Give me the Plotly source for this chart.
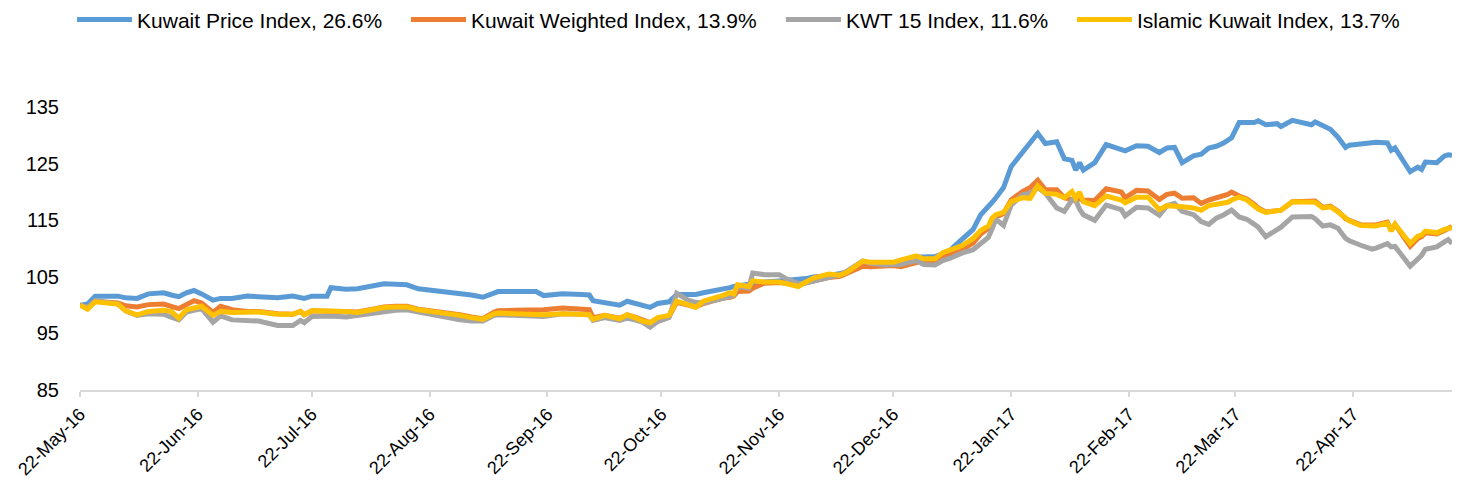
import plotly.graph_objects as go

dates = [
    "2016-05-22", "2016-05-24", "2016-05-26", "2016-06-01", "2016-06-03", "2016-06-06", "2016-06-09", "2016-06-13", "2016-06-15", "2016-06-17",
    "2016-06-19", "2016-06-21", "2016-06-23", "2016-06-26", "2016-06-28", "2016-07-01", "2016-07-05", "2016-07-08", "2016-07-13", "2016-07-17",
    "2016-07-19", "2016-07-20", "2016-07-22", "2016-07-26", "2016-07-27", "2016-07-31", "2016-08-03", "2016-08-07", "2016-08-10", "2016-08-13",
    "2016-08-16", "2016-08-19", "2016-08-23", "2016-08-27", "2016-08-30", "2016-09-02", "2016-09-05", "2016-09-08", "2016-09-09", "2016-09-13",
    "2016-09-18", "2016-09-19", "2016-09-21", "2016-09-26", "2016-10-01", "2016-10-03", "2016-10-04", "2016-10-07", "2016-10-11", "2016-10-13",
    "2016-10-15", "2016-10-17", "2016-10-19", "2016-10-21", "2016-10-24", "2016-10-26", "2016-10-29", "2016-10-31", "2016-11-02", "2016-11-05",
    "2016-11-07", "2016-11-09", "2016-11-10", "2016-11-11", "2016-11-14", "2016-11-15", "2016-11-18", "2016-11-22", "2016-11-24", "2016-11-27",
    "2016-11-29", "2016-12-01", "2016-12-05", "2016-12-08", "2016-12-10", "2016-12-12", "2016-12-14", "2016-12-16", "2016-12-20", "2016-12-22",
    "2016-12-24", "2016-12-28", "2016-12-30", "2017-01-02", "2017-01-04", "2017-01-06", "2017-01-07", "2017-01-09", "2017-01-12", "2017-01-14",
    "2017-01-16", "2017-01-17", "2017-01-18", "2017-01-20", "2017-01-22", "2017-01-25", "2017-01-27", "2017-01-29", "2017-01-31", "2017-02-03",
    "2017-02-05", "2017-02-07", "2017-02-08", "2017-02-09", "2017-02-10", "2017-02-13", "2017-02-16", "2017-02-20", "2017-02-21", "2017-02-24",
    "2017-02-27", "2017-03-02", "2017-03-04", "2017-03-06", "2017-03-08", "2017-03-11", "2017-03-13", "2017-03-15", "2017-03-17", "2017-03-19",
    "2017-03-20", "2017-03-21", "2017-03-23", "2017-03-25", "2017-03-27", "2017-03-28", "2017-03-30", "2017-04-02", "2017-04-03", "2017-04-06",
    "2017-04-11", "2017-04-12", "2017-04-14", "2017-04-16", "2017-04-18", "2017-04-20", "2017-04-21", "2017-04-24", "2017-04-27", "2017-04-28",
    "2017-05-01", "2017-05-02", "2017-05-03", "2017-05-07", "2017-05-09", "2017-05-10", "2017-05-11", "2017-05-14", "2017-05-16", "2017-05-17", "2017-05-18",
]

kuwait_price = [
    100.0, 100.2, 101.6, 101.6, 101.3, 101.2, 102.0, 102.2, 101.8, 101.5,
    102.2, 102.6, 102.0, 100.9, 101.2, 101.2, 101.6, 101.5, 101.3, 101.6,
    101.4, 101.2, 101.6, 101.6, 103.1, 102.8, 102.9, 103.4, 103.8, 103.7,
    103.6, 102.9, 102.6, 102.2, 102.1, 101.8, 101.4, 102.3, 102.4, 102.4,
    102.4, 102.4, 101.7, 102.0, 101.9, 101.8, 100.8, 100.4, 100.0, 100.7,
    100.3, 99.9, 99.6, 100.3, 100.6, 101.9, 101.9, 101.9, 102.2, 102.5,
    102.8, 103.1, 103.3, 103.4, 103.8, 103.9, 104.1, 104.3, 104.4, 104.6,
    104.7, 105.0, 105.2, 105.6, 105.9, 106.6, 107.2, 107.5, 107.4, 107.5,
    107.7, 108.5, 108.5, 108.6, 109.1, 109.7, 110.4, 111.5, 113.4, 116.0,
    117.3, 118.2, 119.0, 120.8, 124.5, 127.0, 129.0, 130.4, 128.6, 128.9,
    125.9, 125.6, 123.9, 125.2, 123.9, 125.2, 128.4, 127.6, 127.3, 128.2,
    128.1, 127.0, 127.8, 127.9, 125.2, 126.4, 126.7, 127.8, 128.1, 128.7,
    129.1, 129.6, 132.3, 132.3, 132.3, 132.6, 131.9, 132.1, 131.6, 132.7,
    131.9, 132.4, 131.7, 131.1, 129.7, 127.9, 128.3, 128.6, 128.9, 128.8,
    128.7, 127.4, 127.8, 123.6, 124.4, 124.0, 125.3, 125.2, 126.4, 126.6, 126.5,
]

kuwait_weighted = [
    100.0, 99.5, 100.7, 100.4, 99.9, 99.7, 100.1, 100.2, 99.8, 99.4,
    100.1, 100.8, 100.4, 98.7, 99.8, 99.2, 98.9, 98.9, 98.5, 98.4,
    98.9, 98.3, 99.0, 99.0, 99.0, 99.0, 98.8, 99.3, 99.7, 99.8,
    99.8, 99.3, 99.0, 98.6, 98.3, 97.9, 97.6, 98.8, 99.0, 99.1,
    99.1, 99.1, 99.2, 99.5, 99.4, 99.2, 97.8, 98.2, 97.7, 98.3,
    97.9, 97.3, 96.9, 97.6, 98.0, 100.5, 100.1, 99.7, 100.3, 100.9,
    101.2, 101.4, 101.6, 102.4, 102.5, 103.0, 103.9, 104.0, 103.8, 103.6,
    104.0, 104.3, 104.9, 105.1, 105.7, 106.3, 106.9, 106.8, 106.9, 107.0,
    106.8, 107.6, 107.9, 107.9, 108.3, 108.9, 109.2, 109.8, 111.0, 112.6,
    113.6, 114.8, 115.6, 116.2, 118.6, 120.1, 120.8, 122.1, 120.4, 120.4,
    119.0, 118.7, 118.6, 118.8, 118.6, 118.5, 120.6, 120.0, 119.0, 120.3,
    120.2, 118.7, 119.6, 119.8, 118.9, 119.0, 118.0, 118.6, 118.9, 119.4,
    119.6, 120.0, 119.3, 118.8, 117.8, 117.2, 116.5, 116.7, 116.8, 118.3,
    118.5, 118.4, 117.3, 117.5, 116.6, 115.3, 115.0, 114.2, 114.2, 114.2,
    114.7, 113.3, 114.3, 110.4, 111.8, 112.1, 112.8, 112.6, 113.2, 113.6, 113.9,
]

kwt15 = [
    100.0, 99.6, 100.8, 100.2, 99.0, 98.2, 98.5, 98.4, 97.9, 97.4,
    98.8, 99.2, 99.4, 97.0, 98.1, 97.4, 97.2, 97.2, 96.4, 96.4,
    97.3, 96.9, 98.0, 98.1, 98.1, 97.9, 98.2, 98.6, 98.9, 99.1,
    99.2, 98.8, 98.4, 97.8, 97.4, 97.2, 97.2, 98.2, 98.3, 98.2,
    98.2, 98.1, 98.0, 98.5, 98.4, 98.3, 97.3, 97.8, 97.3, 97.7,
    97.4, 97.0, 96.1, 97.1, 97.8, 102.1, 100.9, 100.5, 100.4, 100.8,
    101.2, 101.5, 101.8, 103.3, 103.0, 105.7, 105.4, 105.4, 104.6, 103.8,
    103.9, 104.2, 105.0, 105.4, 106.1, 106.9, 107.8, 107.4, 107.1, 107.2,
    107.2, 107.9, 107.2, 107.1, 107.9, 108.3, 108.6, 109.2, 109.8, 110.9,
    112.0, 113.5, 115.2, 114.1, 117.7, 119.5, 119.8, 120.8, 119.8, 117.2,
    116.6, 118.6, 118.5, 117.0, 116.0, 115.0, 117.7, 116.9, 115.8, 117.3,
    117.2, 115.9, 117.6, 118.0, 116.6, 116.0, 114.8, 114.3, 115.4, 116.0,
    116.3, 116.8, 115.6, 115.2, 114.3, 113.8, 112.1, 113.4, 113.8, 115.6,
    115.7, 115.3, 114.0, 114.2, 113.6, 111.8, 111.4, 110.6, 109.9, 110.1,
    110.9, 110.3, 110.4, 106.9, 108.2, 108.8, 109.9, 110.3, 111.2, 111.6, 110.9,
]

islamic_kuwait = [
    100.0, 99.3, 100.6, 100.2, 99.0, 98.3, 98.9, 99.1, 98.9, 97.7,
    99.2, 99.5, 99.8, 98.2, 98.9, 98.7, 98.8, 98.8, 98.4, 98.4,
    98.9, 98.3, 99.0, 99.0, 99.0, 98.9, 98.7, 99.2, 99.6, 99.7,
    99.7, 99.2, 98.9, 98.5, 98.2, 97.8, 97.5, 98.5, 98.6, 98.5,
    98.4, 98.4, 98.3, 98.5, 98.5, 98.3, 97.5, 98.2, 97.6, 98.3,
    97.8, 97.2, 96.9, 97.8, 98.2, 100.7, 100.1, 99.6, 100.7, 101.2,
    101.7, 102.2, 102.0, 103.6, 103.3, 104.3, 104.1, 104.1, 103.7, 103.3,
    104.1, 104.8, 105.5, 105.3, 105.9, 106.8, 107.8, 107.6, 107.7, 107.6,
    108.0, 108.7, 108.2, 108.2, 109.3, 109.7, 110.0, 110.5, 111.8, 113.2,
    114.0, 115.4, 116.0, 116.4, 118.3, 119.0, 118.9, 121.1, 119.8, 119.6,
    119.0, 120.1, 118.9, 120.0, 118.3, 117.6, 119.3, 118.6, 118.1, 119.1,
    119.1, 116.9, 117.6, 117.6, 117.4, 117.2, 116.8, 117.6, 117.9, 118.1,
    118.2, 118.6, 119.1, 118.6, 117.7, 117.0, 116.4, 116.7, 116.8, 118.3,
    118.4, 118.2, 117.2, 117.4, 116.5, 115.3, 114.9, 114.1, 114.0, 114.0,
    114.5, 113.1, 114.3, 110.9, 112.2, 112.4, 113.1, 112.8, 113.4, 113.5, 113.7,
]

series_names = [
    "Kuwait Price Index, 26.6%",
    "Kuwait Weighted Index, 13.9%",
    "KWT 15 Index, 11.6%",
    "Islamic Kuwait Index, 13.7%",
]
series_values = [kuwait_price, kuwait_weighted, kwt15, islamic_kuwait]
series_colors = ["#5B9BD5", "#ED7D31", "#A5A5A5", "#FFC000"]

x_tick_dates = [
    "2016-05-22", "2016-06-22", "2016-07-22", "2016-08-22", "2016-09-22", "2016-10-22",
    "2016-11-22", "2016-12-22", "2017-01-22", "2017-02-22", "2017-03-22", "2017-04-22",
]
y_ticks = [85, 95, 105, 115, 125, 135]

for v in series_values:
    assert len(v) == len(dates)

FONT = "Liberation Sans, Arial, sans-serif"
legend_ids = ["legend", "legend2", "legend3", "legend4"]
legend_x = [-0.0058, 0.2376, 0.5109, 0.7230]

fig = go.Figure()
for name, vals, col, lid in zip(series_names, series_values, series_colors, legend_ids):
    fig.add_trace(go.Scatter(
        x=dates, y=vals, mode="lines", name=name, legend=lid,
        line=dict(color=col, width=5),
    ))

legend_layout = {}
for lid, lx in zip(legend_ids, legend_x):
    legend_layout[lid] = dict(
        orientation="h", x=lx, xanchor="left", y=1.19, yanchor="middle",
        font=dict(family=FONT, size=21, color="#000000"), bgcolor="rgba(0,0,0,0)",
        itemwidth=55,
    )

fig.update_layout(
    width=1458, height=490,
    margin=dict(l=80, r=6, t=79, b=100, autoexpand=False),
    plot_bgcolor="white", paper_bgcolor="white",
    font=dict(family=FONT, size=18, color="#000000"),
    showlegend=True,
    hovermode=False,
    **legend_layout,
)
fig.update_xaxes(
    type="date", range=["2016-05-22", "2017-05-18"],
    tickvals=x_tick_dates, tickformat="%d-%b-%y", tickangle=-45,
    showgrid=False, zeroline=False, showline=True, linecolor="#D9D9D9", linewidth=1.5,
    ticks="outside", ticklen=5, tickcolor="#D9D9D9", tickwidth=1.5,
    tickfont=dict(family=FONT, size=18, color="#000000"),
)
fig.update_yaxes(
    range=[85, 140], tickvals=y_ticks,
    showgrid=False, zeroline=False, showline=False, ticks="",
    tickfont=dict(family=FONT, size=20, color="#000000"), ticklabelstandoff=20,
)

fig.write_html("out.html", config={"displayModeBar": False},
               post_script="document.body.style.margin='0';")
